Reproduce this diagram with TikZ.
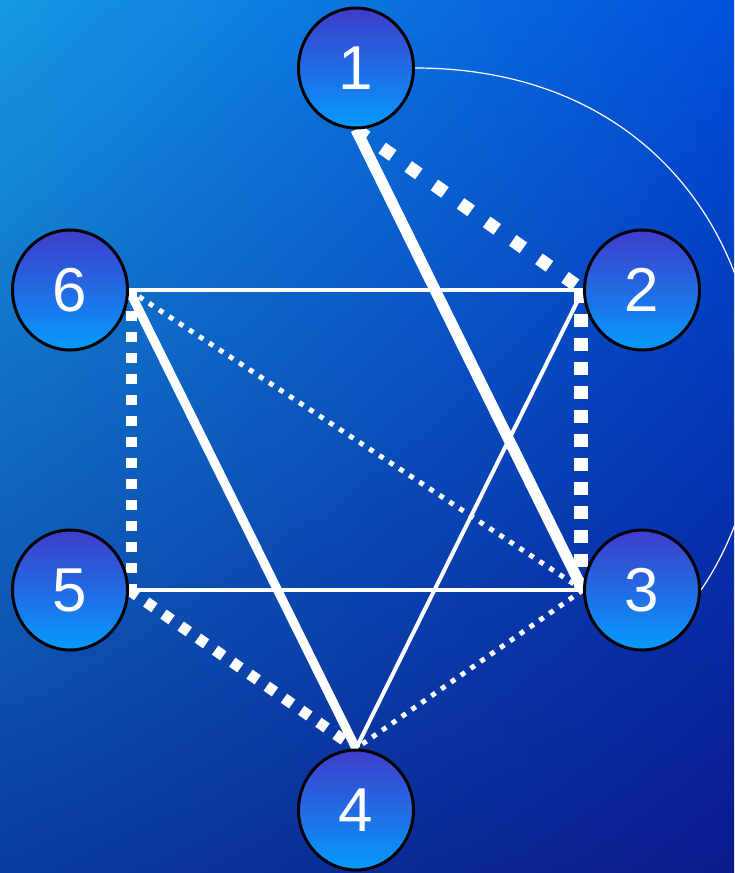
\documentclass[tikz,border=0pt]{standalone}
\usepackage{fontspec}
\setmainfont{Liberation Sans}
\usetikzlibrary{shapes.geometric,shadings}
\pgfdeclarelayer{bgl}
\pgfdeclarelayer{edl}
\pgfsetlayers{bgl,edl,main}
\definecolor{bgUL}{RGB}{22,152,226}
\definecolor{bgUR}{RGB}{0,80,220}
\definecolor{bgLL}{RGB}{10,60,160}
\definecolor{bgLR}{RGB}{10,25,140}
\definecolor{nodeTop}{RGB}{62,60,205}
\definecolor{nodeMid}{RGB}{35,122,236}
\definecolor{nodeBot}{RGB}{5,155,250}
\begin{document}
\begin{tikzpicture}[x=1pt,y=-1pt,
  vnode/.style={ellipse, draw=black, line width=3pt, minimum width=115pt,
    minimum height=120pt, inner sep=0pt, top color=nodeTop, middle color=nodeMid,
    bottom color=nodeBot, text=white, font=\fontsize{62}{62}\selectfont},
  thinsolid/.style={draw=white, line width=4pt},
  heavysolid/.style={draw=white, line width=11pt},
  medsolid/.style={draw=white, line width=9pt},
  bigdash/.style={draw=white, line width=13pt, dash pattern=on 13pt off 19pt},
  vdash/.style={draw=white, line width=14pt, dash pattern=on 13pt off 11pt},
  smalldash/.style={draw=white, line width=11pt, dash pattern=on 10pt off 11pt},
  dotline/.style={draw=white, line width=5pt, dash pattern=on 5pt off 7pt},
  arcline/.style={draw=white, line width=1.2pt}]
\useasboundingbox (0,0) rectangle (734,873);
\begin{pgfonlayer}{bgl}
\shade[upper left=bgUL, upper right=bgUR, lower left=bgLL, lower right=bgLR] (0,0) rectangle (734,873);
\end{pgfonlayer}
\node[vnode] (n1) at (356,68) {1};
\node[vnode] (n2) at (642,290) {2};
\node[vnode] (n3) at (642,590) {3};
\node[vnode] (n4) at (356,810) {4};
\node[vnode] (n5) at (70,590) {5};
\node[vnode] (n6) at (70,290) {6};
\begin{pgfonlayer}{edl}
\path[thinsolid] (n6.east) -- (n2.west);
\path[thinsolid] (n5.east) -- (n3.west);
\path[thinsolid] (n2.west) -- (n4.north);
\path[heavysolid] (n1.south) -- (n3.west);
\path[medsolid] (n6.east) -- (n4.north);
\path[bigdash] (n1.south) -- (n2.west);
\path[vdash] ([xshift=-2pt]n2.west) -- ([xshift=-2pt]n3.west);
\path[smalldash] ([xshift=2pt]n6.east) -- ([xshift=2pt]n5.east);
\path[smalldash] (n5.east) -- (n4.north);
\path[dotline] (n6.east) -- (n3.west);
\path[dotline] (n3.west) -- (n4.north);
\begin{scope}
\clip (0,0) rectangle (734,873);
\path[arcline] (n1.east) .. controls (740,68) and (830,400) .. (n3.east);
\end{scope}
\end{pgfonlayer}
\end{tikzpicture}
\end{document}
